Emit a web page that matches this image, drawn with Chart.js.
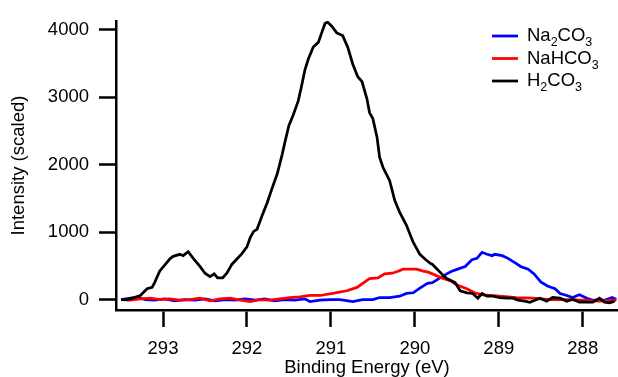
<!DOCTYPE html>
<html>
<head>
<meta charset="utf-8">
<script src="https://cdn.jsdelivr.net/npm/chart.js@4/dist/chart.umd.min.js"></script>
<style>
  html, body { margin: 0; padding: 0; background: #fff; }
  #wrap { width: 618px; height: 377px; position: relative; }
</style>
</head>
<body>
<div id="wrap"><canvas id="xpsChart" width="618" height="377"></canvas></div>
<script>
// =======================================================
// C 1s spectra (binding energy in eV, scaled intensity)
// =======================================================

const seriesLabels = ["Na2CO3", "NaHCO3", "H2CO3"];
const seriesColors = ["#0000ff", "#ff0000", "#000000"];

const xTicks = [293, 292, 291, 290, 289, 288];
const yTicks = [0, 1000, 2000, 3000, 4000];

const na2co3Energy = [293.50,293.39,293.30,293.21,293.10,292.98,292.86,292.74,292.62,292.50,
  292.38,292.26,292.14,292.02,291.90,291.79,291.67,291.55,291.43,291.31,
  291.25,291.13,291.01,290.89,290.74,290.62,290.50,290.42,290.30,290.18,
  290.10,290.02,289.94,289.85,289.79,289.70,289.62,289.56,289.49,289.40,
  289.32,289.26,289.20,289.14,289.08,289.05,288.96,288.89,288.80,288.74,
  288.65,288.58,288.50,288.42,288.33,288.27,288.19,288.12,288.04,287.95,
  287.88,287.80,287.74,287.65,287.60];
const na2co3Intensity = [0,20,30,0,-10,10,-20,0,-10,10,
  -20,0,-10,10,-10,10,-20,0,-10,10,
  -30,-10,0,0,-30,0,0,30,30,50,
  90,100,170,240,250,320,380,420,450,490,
  590,610,700,670,650,670,650,610,540,490,
  450,380,260,200,160,90,60,30,70,20,
  -10,-10,-10,30,0];

const nahco3Energy = [293.50,293.39,293.27,293.15,293.04,292.92,292.80,292.68,292.56,292.44,
  292.32,292.20,292.08,291.96,291.85,291.73,291.61,291.49,291.37,291.25,
  291.13,290.98,290.81,290.69,290.62,290.54,290.44,290.36,290.27,290.20,
  290.14,290.06,289.98,289.90,289.85,289.79,289.68,289.58,289.49,289.38,
  289.29,289.19,288.99,288.79,288.60,288.39,288.19,288.00,287.80,287.60];
const nahco3Intensity = [0,-10,10,20,0,10,-10,0,20,-20,
  10,20,-10,-30,0,-10,10,30,40,60,
  60,90,130,180,240,310,320,380,390,420,
  450,450,450,420,410,380,320,280,210,160,
  100,70,50,30,20,0,0,-10,-25,-10];

const h2co3Energy = [293.50,293.42,293.27,293.19,293.13,293.10,293.04,292.98,292.92,292.88,
  292.80,292.76,292.70,292.64,292.56,292.50,292.44,292.39,292.35,292.29,
  292.24,292.18,292.12,292.06,292.00,291.96,291.92,291.88,291.82,291.76,
  291.70,291.64,291.58,291.55,291.50,291.45,291.39,291.35,291.31,291.27,
  291.21,291.15,291.11,291.07,291.04,290.99,290.93,290.86,290.80,290.74,
  290.68,290.63,290.57,290.54,290.50,290.45,290.42,290.38,290.30,290.24,
  290.18,290.10,290.02,289.94,289.88,289.82,289.79,289.68,289.62,289.52,
  289.46,289.38,289.31,289.25,289.20,289.14,289.07,288.99,288.90,288.83,
  288.77,288.69,288.63,288.60,288.51,288.43,288.36,288.27,288.19,288.12,
  288.04,287.95,287.88,287.80,287.74,287.68,287.62];
const h2co3Intensity = [0,0,60,160,180,250,420,510,600,640,
  670,650,710,610,490,390,340,380,320,320,
  390,520,600,680,780,920,1010,1040,1240,1430,
  1650,1860,2150,2320,2580,2730,2940,3160,3400,3560,
  3740,3810,3950,4090,4110,4050,3950,3910,3740,3490,
  3300,3230,2970,2770,2680,2400,2110,1960,1760,1470,
  1290,1100,850,670,600,540,520,380,310,250,
  130,100,90,20,90,50,50,30,20,20,
  -10,-25,-40,-25,20,-25,30,20,-25,5,
  -40,-40,-40,20,-40,-50,-25];

const FONT = "'Liberation Sans', Arial, Helvetica, sans-serif";
const FONT_SIZE = 18.5;

function toPoints(xs, ys) {
    return xs.map((x, i) => ({ x: x, y: ys[i] }));
}

// =======================================================
// Legend with subscript digits (Na2CO3 -> Na₂CO₃ style)
// =======================================================

function drawFormula(ctx, text, x, y) {
    let cx = x;
    for (const ch of text) {
        const sub = ch >= "0" && ch <= "9";
        ctx.font = (sub ? "12.5px " : FONT_SIZE + "px ") + FONT;
        ctx.fillText(ch, cx, sub ? y + 5 : y);
        cx += ctx.measureText(ch).width;
    }
}

const formulaLegend = {
    id: "formulaLegend",
    afterDraw(chart) {
        const ctx = chart.ctx;
        const x0 = chart.chartArea.right - 126;
        const y0 = 36;
        const rowGap = 22.5;
        ctx.save();
        ctx.textBaseline = "alphabetic";
        ctx.fillStyle = "#000";
        seriesLabels.forEach((label, i) => {
            const y = y0 + i * rowGap;
            ctx.strokeStyle = seriesColors[i];
            ctx.lineWidth = 2.75;
            ctx.beginPath();
            ctx.moveTo(x0, y);
            ctx.lineTo(x0 + 26, y);
            ctx.stroke();
            drawFormula(ctx, label, x0 + 35, y + 5);
        });
        ctx.restore();
    }
};

// =======================================================
// Chart
// =======================================================

function drawSpectra() {

    const intensities = [na2co3Intensity, nahco3Intensity, h2co3Intensity];
    const energies = [na2co3Energy, nahco3Energy, h2co3Energy];

    new Chart(document.getElementById("xpsChart"), {

        type: "line",

        data: {
            datasets: seriesLabels.map((label, i) => ({
                label: label,
                data: toPoints(energies[i], intensities[i]),
                borderColor: seriesColors[i],
                borderWidth: 2.75,
                pointRadius: 0,
                tension: 0,
                fill: false,
                order: 2 - i
            }))
        },

        options: {
            responsive: false,
            animation: false,
            layout: { padding: { top: 13, right: 0, left: 0, bottom: 0 } },
            plugins: {
                legend: { display: false },
                tooltip: { enabled: false }
            },
            scales: {
                x: {
                    type: "linear",
                    reverse: true,
                    min: 287.58,
                    max: 293.56,
                    afterBuildTicks: axis => { axis.ticks = xTicks.map(v => ({ value: v })); },
                    afterFit: axis => { axis.height = 67; },
                    grid: { drawOnChartArea: false, drawTicks: true, tickLength: 17, tickWidth: 2.5, tickColor: "#000" },
                    border: { display: true, color: "#000", width: 2.5 },
                    ticks: { color: "#000", padding: 11, maxRotation: 0, font: { family: FONT, size: FONT_SIZE },
                             callback: v => String(v) },
                    title: {
                        display: true,
                        text: "Binding Energy (eV)",
                        color: "#000",
                        font: { family: FONT, size: FONT_SIZE, lineHeight: 1 },
                        padding: { top: 0, bottom: 0 }
                    }
                },
                y: {
                    min: -155,
                    max: 4125,
                    afterBuildTicks: axis => { axis.ticks = yTicks.map(v => ({ value: v })); },
                    afterFit: axis => { axis.width = 116; },
                    grid: { drawOnChartArea: false, drawTicks: true, tickLength: 17, tickWidth: 2.5, tickColor: "#000" },
                    border: { display: true, color: "#000", width: 2.5 },
                    ticks: { color: "#000", padding: 10, font: { family: FONT, size: FONT_SIZE },
                             callback: v => String(v) },
                    title: {
                        display: true,
                        text: "Intensity (scaled)",
                        color: "#000",
                        font: { family: FONT, size: FONT_SIZE, lineHeight: 1 },
                        padding: { top: 10, bottom: 0 }
                    }
                }
            }
        },

        plugins: [formulaLegend]

    });

}

window.addEventListener("load", drawSpectra);
</script>
</body>
</html>
